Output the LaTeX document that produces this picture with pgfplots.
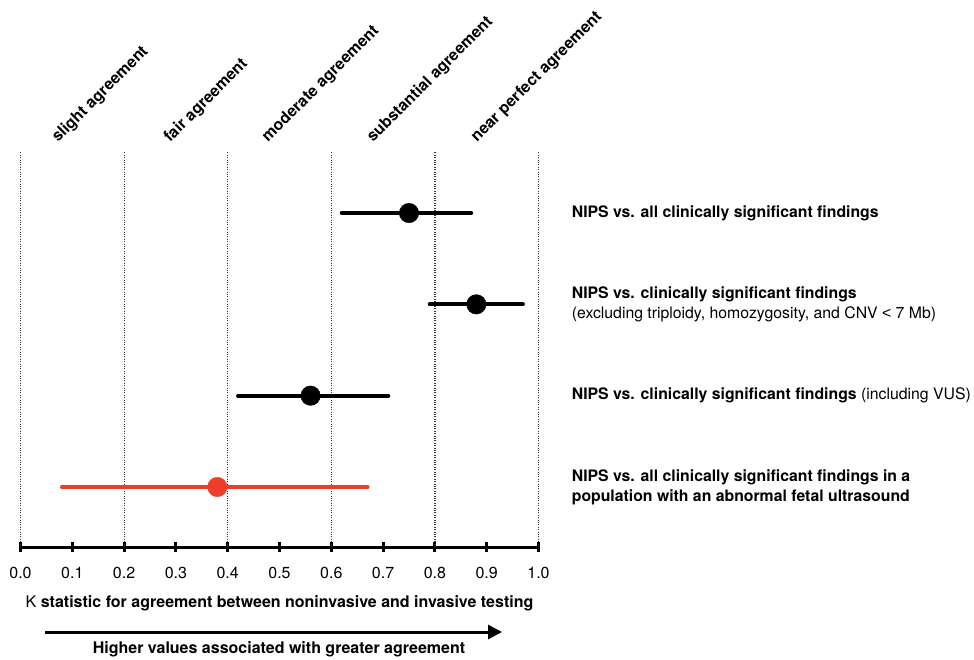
\documentclass[border=0pt]{standalone}
\usepackage{pgfplots}
\usepackage{pgfplotstable}
\pgfplotsset{compat=1.18}
\usetikzlibrary{arrows.meta}
\usepackage{fontspec}
\setmainfont{TeX Gyre Heros}
\newfontfamily\lib{Liberation Sans}
\definecolor{nred}{RGB}{236,62,40}
\pgfplotstableread{
k row em ep
0.75 4 0.13 0.12
0.88 3 0.09 0.09
0.56 2 0.14 0.15
}\blackdata
\pgfplotstableread{
k row em ep
0.38 1 0.30 0.29
}\reddata
\begin{document}
\fontsize{16}{20}\selectfont
\begin{tikzpicture}
\useasboundingbox (0,0) rectangle (974pt,-659pt);
\begin{axis}[
  at={(20.5pt,-547pt)}, anchor=south west,
  scale only axis, width=518pt, height=395pt,
  xmin=0, xmax=1, ymin=0.343, ymax=4.668,
  axis x line*=bottom, axis y line=none,
  axis line style={line width=3pt, -},
  xtick={0,0.1,0.2,0.3,0.4,0.5,0.6,0.7,0.8,0.9,1},
  xticklabels={0.0,0.1,0.2,0.3,0.4,0.5,0.6,0.7,0.8,0.9,1.0},
  tick align=center, major tick length=10pt,
  x tick style={line width=3pt, black},
  extra x ticks={0,0.2,0.4,0.6,0.8,1},
  extra x tick labels={},
  extra x tick style={grid=major, major tick length=0pt},
  grid style={line width=1.2pt, dash pattern=on 1pt off 1.4pt, black!80},
  xticklabel style={font=\fontsize{16}{19}\selectfont, yshift=-10pt},
  /pgf/number format/assume math mode=true,
  clip=false,
]
\addplot[only marks, mark=*, mark size=9.75pt, black,
  error bars/.cd, x dir=both, x explicit, error mark=none,
  error bar style={line width=4pt, line cap=round, black}]
  table[x=k, y=row, x error minus=em, x error plus=ep] {\blackdata};
\addplot[only marks, mark=*, mark size=9.75pt, nred,
  error bars/.cd, x dir=both, x explicit, error mark=none,
  error bar style={line width=4pt, line cap=round, nred}]
  table[x=k, y=row, x error minus=em, x error plus=ep] {\reddata};
\begin{scope}[every node/.style={anchor=west, align=left, inner sep=0, font=\fontsize{15.8}{20}\selectfont}]
\node at (axis cs:1.064,4)
  {\textbf{NIPS vs. all clinically significant findings}};
\node at (axis cs:1.064,3)
  {\textbf{NIPS vs. clinically significant findings}\\(excluding triploidy, homozygosity, and CNV {\lib<} 7 Mb)};
\node at (axis cs:1.064,2)
  {\textbf{NIPS vs. clinically significant findings} (including VUS)};
\node at (axis cs:1.064,1)
  {\textbf{NIPS vs. all clinically significant findings in a}\\\textbf{population with an abnormal fetal ultrasound}};
\end{scope}
\end{axis}
\begin{scope}[every node/.style={anchor=base west, rotate=45, inner sep=0, font=\bfseries}]
\node at (58pt,-143pt) {slight agreement};
\node at (170pt,-143pt) {fair agreement};
\node at (268pt,-143pt) {moderate agreement};
\node at (373pt,-143pt) {substantial agreement};
\node at (477pt,-143pt) {near perfect agreement};
\end{scope}
\node[inner sep=0] at (279.5pt,-603pt) {K \textbf{statistic for agreement between noninvasive and invasive testing}};
\draw[line width=3pt, -{Triangle[length=14pt,width=14pt]}] (45pt,-632pt) -- (502pt,-632pt);
\node[inner sep=0] at (279pt,-649pt) {\textbf{Higher values associated with greater agreement}};
\end{tikzpicture}
\end{document}
